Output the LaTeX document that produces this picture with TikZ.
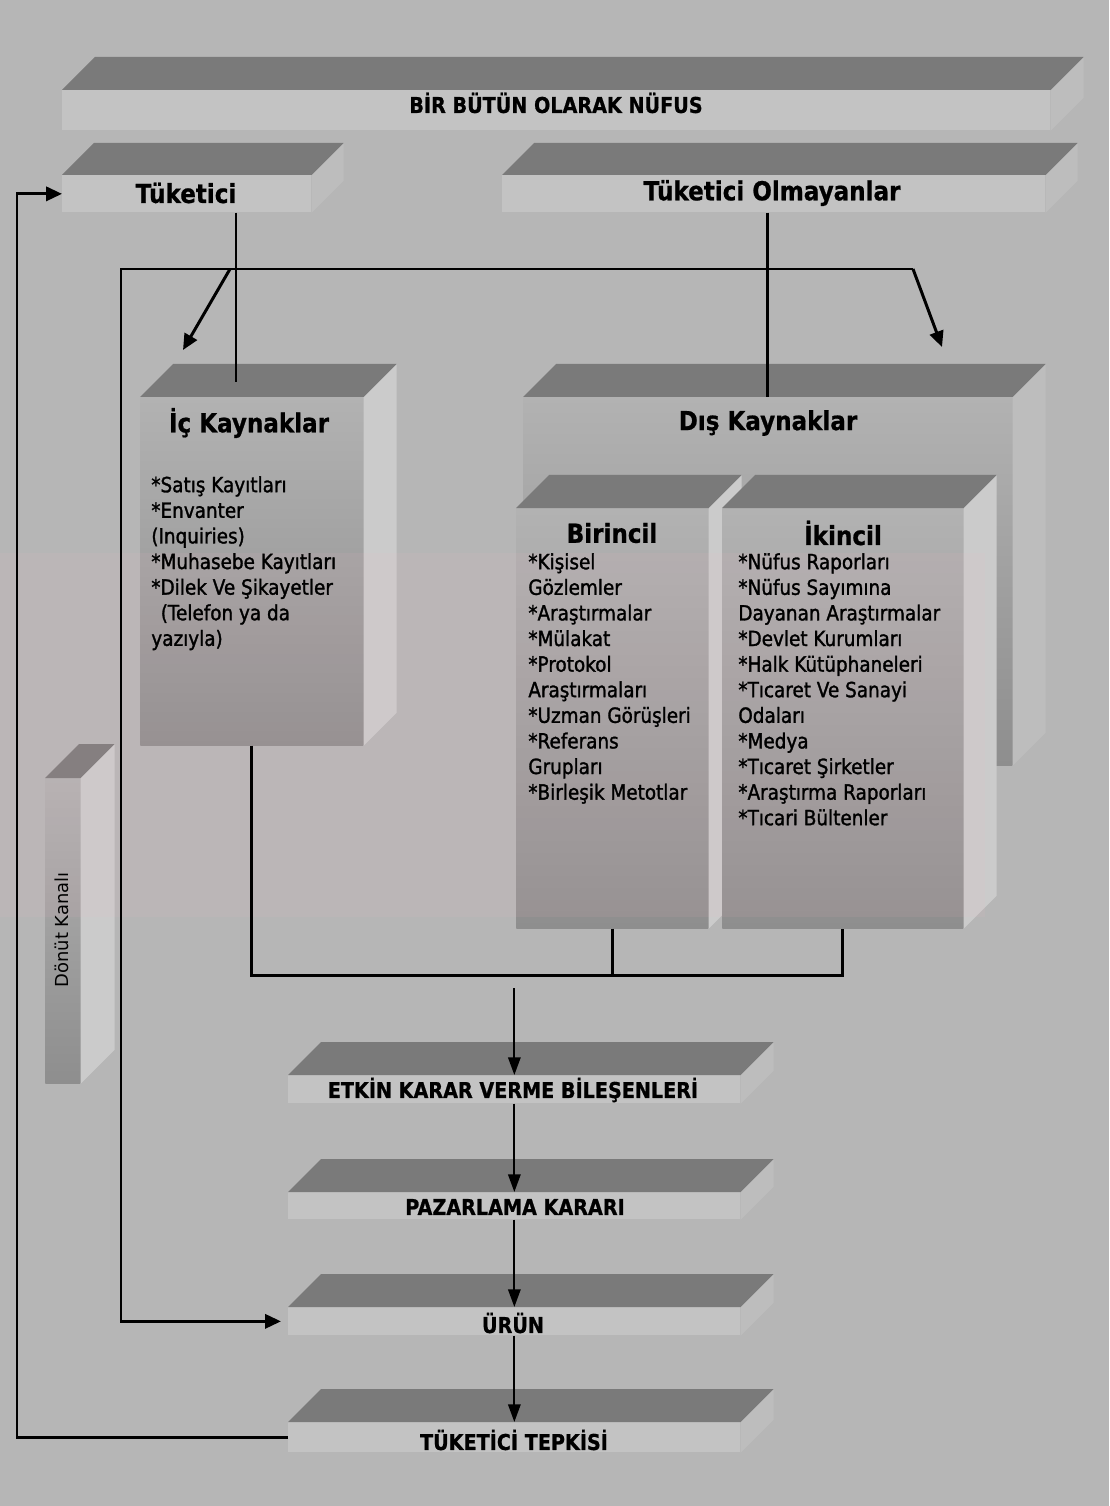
\documentclass[tikz,border=0pt]{standalone}
\usepackage{fontspec}
\setmainfont{DejaVu Sans}
\newfontfamily\itemfont[FakeStretch=0.88,FakeBold=1.4]{DejaVu Sans}
\newfontfamily\headfont[FakeStretch=0.88,FakeBold=0.8]{DejaVu Sans}
\usetikzlibrary{arrows.meta,calc}
\definecolor{bgc}{HTML}{B6B6B6}
\definecolor{topc}{HTML}{7A7A7A}
\definecolor{sidec}{HTML}{CBCBCB}
\definecolor{flatside}{HTML}{BDBDBD}
\definecolor{flatc}{HTML}{C3C3C3}
\definecolor{bigtop}{HTML}{B2B2B2}
\definecolor{bigbot}{HTML}{8E8E8E}
\definecolor{wm}{HTML}{F4B8C4}
\newcommand\cubebox[8]{%
  \node[#7, minimum width={#4*0.02cm}, minimum height={#5*0.02cm}] (#1) at (#2,#3) {};
  \fill[#8] (#1.north east) -- ++(#6,-#6) -- ($(#1.south east)+(#6,-#6)$) -- (#1.south east) -- cycle;
  \fill[topc] (#1.north west) -- ++(#6,-#6) -- ($(#1.north east)+(#6,-#6)$) -- (#1.north east) -- cycle;
}
\begin{document}
\begin{tikzpicture}[x=0.02cm,y=-0.02cm,
  flatface/.style={fill=flatc, inner sep=0, anchor=north west, draw=none},
  bigface/.style={top color=bigtop, bottom color=bigbot, inner sep=0, anchor=north west, draw=none},
  titletext/.style={font=\headfont\bfseries\fontsize{14.9pt}{17pt}\selectfont, inner sep=0},
  capstext/.style={font=\headfont\bfseries\fontsize{12.4pt}{14pt}\selectfont, inner sep=0},
  itemtext/.style={font=\itemfont\fontsize{11.9pt}{14.57pt}\selectfont, align=left, inner sep=0, anchor=north west},
  conn/.style={line width=1.7pt, black},
  thinconn/.style={line width=1.2pt, black},
  arr/.style={conn, -{Triangle[length=9pt,width=8pt]}},
  thinarr/.style={thinconn, -{Triangle[length=10pt,width=7pt]}}]
\useasboundingbox (0,0) rectangle (1109,1506);
\fill[bgc] (0,0) rectangle (1109,1506);

% boxes
\cubebox{nufus}{62}{90}{988}{40}{33}{flatface}{flatside}
\cubebox{tuk}{62}{175}{249}{37}{32}{flatface}{flatside}
\cubebox{tukol}{502}{175}{543}{37}{32}{flatface}{flatside}
\cubebox{ic}{140}{397}{223}{348}{33}{bigface}{sidec}
\cubebox{dis}{523}{397}{489}{368}{33}{bigface}{flatside}
\cubebox{bir}{516}{508}{192}{420}{33}{bigface}{sidec}
\cubebox{iki}{722}{508}{241}{420}{33}{bigface}{sidec}
\cubebox{donut}{45}{778}{35}{305}{34}{bigface}{sidec}
\cubebox{etkin}{288}{1075}{452}{28}{33}{flatface}{flatside}
\cubebox{paz}{288}{1192}{452}{27}{33}{flatface}{flatside}
\cubebox{urun}{288}{1307}{452}{28}{33}{flatface}{flatside}
\cubebox{tepki}{288}{1422}{452}{30}{33}{flatface}{flatside}

% faint watermark band
\fill[wm, opacity=0.09] (0,553) rectangle (985,917);

% texts
\node[capstext] (tnufus) at (556,103) {BİR BÜTÜN OLARAK NÜFUS};
\node[titletext] (ttuk) at (186,193) {Tüketici};
\node[titletext] (ttukol) at (772,193) {Tüketici Olmayanlar};
\node[titletext] (tic) at (249,423) {İç Kaynaklar};
\node[itemtext] (lic) at (151,476) {*Satış Kayıtları\\*Envanter\\(Inquiries)\\*Muhasebe Kayıtları\\*Dilek Ve Şikayetler\\\hspace*{0.45em}(Telefon ya da\\yazıyla)};
\node[titletext] (tdis) at (768,423) {Dış Kaynaklar};
\node[titletext] (tbir) at (612,533) {Birincil};
\node[itemtext] (lbir) at (528,553) {*Kişisel\\Gözlemler\\*Araştırmalar\\*Mülakat\\*Protokol\\Araştırmaları\\*Uzman Görüşleri\\*Referans\\Grupları\\*Birleşik Metotlar};
\node[titletext] (tiki) at (843,533) {İkincil};
\node[itemtext] (liki) at (738,553) {*Nüfus Raporları\\*Nüfus Sayımına\\Dayanan Araştırmalar\\*Devlet Kurumları\\*Halk Kütüphaneleri\\*Tıcaret Ve Sanayi\\Odaları\\*Medya\\*Tıcaret Şirketler\\*Araştırma Raporları\\*Tıcari Bültenler};
\node[font=\fontsize{10.2pt}{12pt}\selectfont, inner sep=0, rotate=90] (tdonut) at (62,930) {Dönüt Kanalı};
\node[capstext] (tetkin) at (513,1090) {ETKİN KARAR VERME BİLEŞENLERİ};
\node[capstext] (tpaz) at (515,1207) {PAZARLAMA KARARI};
\node[capstext] (turun) at (513,1323) {ÜRÜN};
\node[capstext] (ttepki) at (514,1440) {TÜKETİCİ TEPKİSİ};

% coordinates
\coordinate (fbx) at (17,0);
\coordinate (tukline) at (236,382);
\coordinate (barL) at (121,269);
\coordinate (barM) at (230,269);
\coordinate (barR) at (913,269);
\coordinate (ictip) at (183,350);
\coordinate (distip) at (942,347);
\coordinate (collect) at (0,975);
\coordinate (downstart) at (0,988);

% connectors
\draw[arr] (tepki.west) -- (tepki.west -| fbx) -- (tuk.west -| fbx) -- (tuk.west);
\draw[conn] (tuk.south -| tukline) -- (tukline);
\draw[conn] (tukol.south -| dis.north) -- (dis.north);
\draw[arr] (barR) -- (barL) -- (barL |- urun.west) -- ([xshift=-4pt]urun.west);
\draw[arr] (barM) -- (ictip);
\draw[arr] (barR) -- (distip);
\draw[conn] (ic.south) -- (ic.south |- collect) -- (iki.south |- collect) -- (iki.south);
\draw[conn] (bir.south) -- (bir.south |- collect);
\draw[thinarr] (etkin.north |- downstart) -- (etkin.north);
\draw[thinarr] (etkin.south) -- (paz.north);
\draw[thinarr] (paz.south) -- (urun.north);
\draw[thinarr] (urun.south) -- (tepki.north);
\end{tikzpicture}
\end{document}
